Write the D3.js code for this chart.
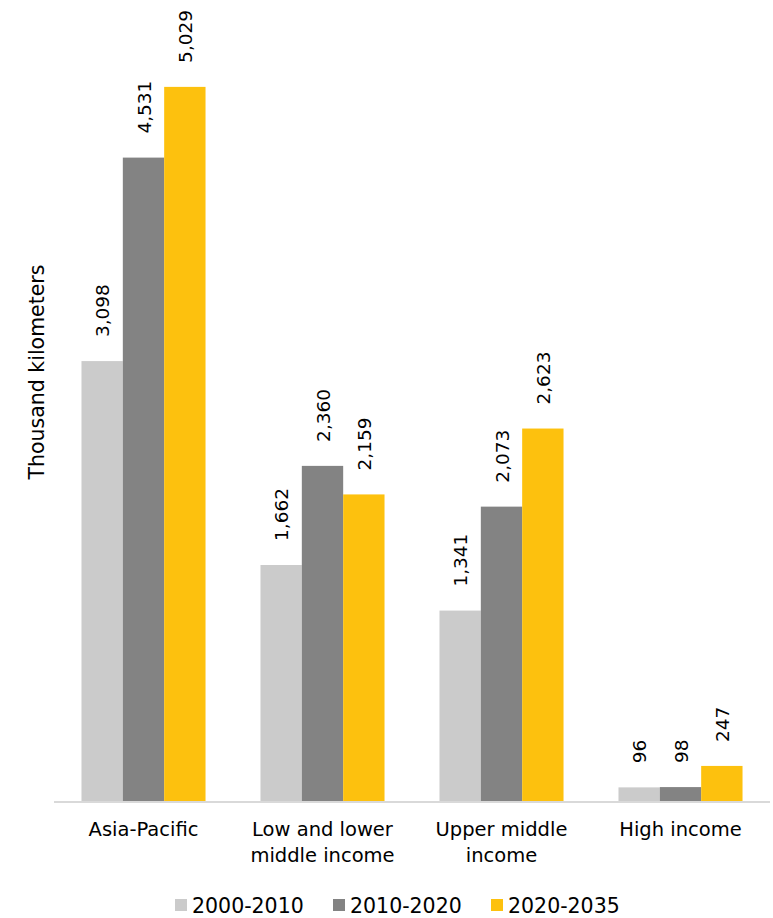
<!DOCTYPE html>
<html><head><meta charset="utf-8">
<script src="https://cdn.jsdelivr.net/npm/d3@7"></script>
<style>body{margin:0;background:#fff}svg{display:block}text{font-family:"DejaVu Sans",sans-serif;fill:#000}</style>
</head><body><svg id="c" width="773" height="918"></svg>
<script>
const categories = [["Asia-Pacific"], ["Low and lower", "middle income"], ["Upper middle", "income"], ["High income"]];
const seriesNames = ["2000-2010", "2010-2020", "2020-2035"];
const s2000 = [3098, 1662, 1341, 96];
const s2010 = [4531, 2360, 2073, 98];
const s2020 = [5029, 2159, 2623, 247];
const colors = ["#cbcbcb", "#838383", "#fdc10e"];
const yTitle = "Thousand kilometers";

const series = [s2000, s2010, s2020];
const svg = d3.select("#c");
const x0 = d3.scaleBand().domain(d3.range(categories.length)).range([54, 770]).paddingInner(0.307).paddingOuter(0.1535);
const x1 = d3.scaleBand().domain(d3.range(series.length)).range([0, x0.bandwidth()]);
const y = d3.scaleLinear().domain([0, 5500]).range([801, 20]);

const g = svg.append("g");
series.forEach((s, si) => {
  g.selectAll(null).data(s).enter().append("rect")
    .attr("x", (d, i) => x0(i) + x1(si))
    .attr("y", d => y(d))
    .attr("width", x1.bandwidth())
    .attr("height", d => y(0) - y(d))
    .attr("fill", colors[si]);
  g.selectAll(null).data(s).enter().append("text")
    .attr("transform", (d, i) => `translate(${x0(i) + x1(si) + x1.bandwidth() / 2 + 7},${y(d) - 24}) rotate(-90)`)
    .attr("font-size", 18.5)
    .text(d => d3.format(",")(d));
});

svg.append("line").attr("x1", 54).attr("x2", 770).attr("y1", y(0) + 1).attr("y2", y(0) + 1)
  .attr("stroke", "#d9d9d9").attr("stroke-width", 2);

categories.forEach((lines, i) => {
  const t = svg.append("text").attr("text-anchor", "middle").attr("font-size", 19.5);
  lines.forEach((l, li) => t.append("tspan").attr("x", x0(i) + x0.bandwidth() / 2).attr("y", 836 + li * 26).text(l));
});

svg.append("text").attr("transform", "translate(44,372) rotate(-90)").attr("text-anchor", "middle")
  .attr("font-size", 20.5).text(yTitle);

const legX = [175, 333, 491];
seriesNames.forEach((n, i) => {
  svg.append("rect").attr("x", legX[i]).attr("y", 899).attr("width", 12).attr("height", 12).attr("fill", colors[i]);
  svg.append("text").attr("x", legX[i] + 17).attr("y", 913).attr("font-size", 20.5).text(n);
});
</script></body></html>
